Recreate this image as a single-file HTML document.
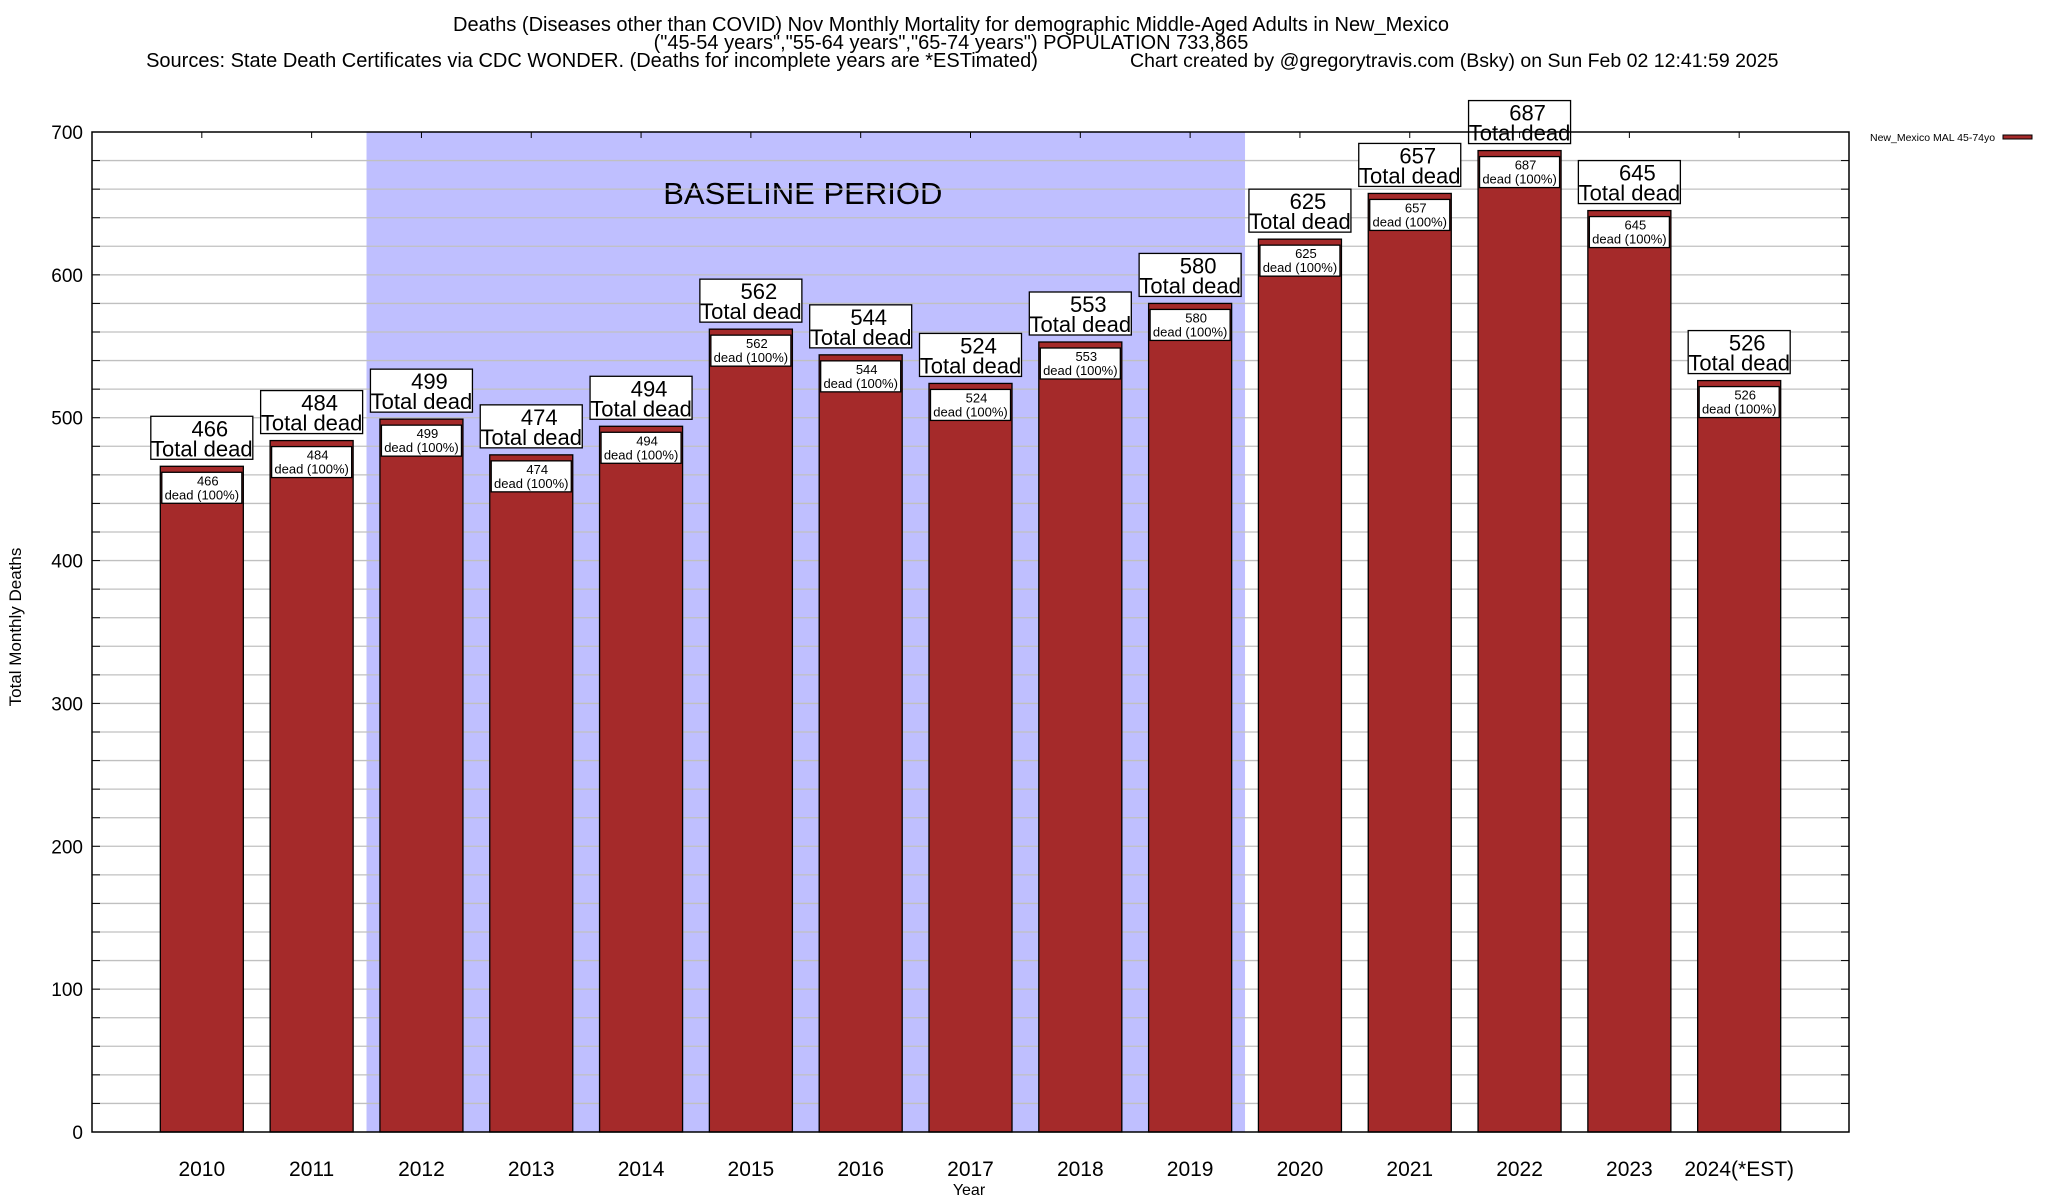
<!DOCTYPE html>
<html><head><meta charset="utf-8"><style>
html,body{margin:0;padding:0;background:#fff}
svg{display:block;font-family:"Liberation Sans",Arial,sans-serif}
</style></head><body>
<svg id="chart" width="2048" height="1200" viewBox="0 0 2048 1200" xmlns="http://www.w3.org/2000/svg">
<g font-size="20" text-anchor="middle">
<text x="951" y="31">Deaths (Diseases other than COVID) Nov Monthly Mortality for demographic Middle-Aged Adults in New_Mexico</text>
<text x="951" y="49">("45-54 years","55-64 years","65-74 years") POPULATION 733,865</text>
<text x="592" y="67">Sources: State Death Certificates via CDC WONDER. (Deaths for incomplete years are *ESTimated)</text>
<text x="1130" y="67" text-anchor="start" font-size="19.5">Chart created by @gregorytravis.com (Bsky) on Sun Feb 02 12:41:59 2025</text>
</g>
<g id="plot"></g>
<text x="21" y="627" font-size="17" text-anchor="middle" transform="rotate(-90 21 627)">Total Monthly Deaths</text>
<text x="969" y="1195" font-size="16" text-anchor="middle">Year</text>
<g>
<text x="1870" y="141" font-size="10.5">New_Mexico MAL 45-74yo</text>
<rect x="2003" y="135" width="29" height="4" fill="#a52a2a" stroke="#000" stroke-width="1"/>
</g>
</svg>
<script>
const categories = ["2010","2011","2012","2013","2014","2015","2016","2017","2018","2019","2020","2021","2022","2023","2024(*EST)"];
const values = [466,484,499,474,494,562,544,524,553,580,625,657,687,645,526];
const yTicks = [0,100,200,300,400,500,600,700];
const baselineStart = 1.5, baselineEnd = 9.5;

const NS = "http://www.w3.org/2000/svg";
const L = 92, R = 1849, T = 132, B = 1132;
const xMin = -1, xMax = 15, yMax = 700;
const xs = i => L + (i - xMin) / (xMax - xMin) * (R - L);
const ys = v => B - v / yMax * (B - T);
const g = document.getElementById('plot');
function mk(tag, attrs, parent) {
  const e = document.createElementNS(NS, tag);
  for (const k in attrs) e.setAttribute(k, attrs[k]);
  (parent || g).appendChild(e);
  return e;
}
const sh = mk('rect', {x: xs(baselineStart), y: T, width: xs(baselineEnd) - xs(baselineStart), height: B - T, fill: '#bfbfff'});


const bt = mk('text', {x: (xs(baselineStart) + xs(baselineEnd)) / 2 - 3, y: 204, 'font-size': 31, 'text-anchor': 'middle'});
bt.textContent = 'BASELINE PERIOD';


for (let v = 20; v < yMax; v += 20) {
  const gl = mk('line', {x1: L, x2: R, y1: ys(v), y2: ys(v), stroke: '#c0c0c0', 'stroke-width': 1.3});
  
  
  mk('line', {x1: L, x2: L + 8, y1: ys(v), y2: ys(v), stroke: '#000', 'stroke-width': 1});
  mk('line', {x1: R - 8, x2: R, y1: ys(v), y2: ys(v), stroke: '#000', 'stroke-width': 1});
}
yTicks.forEach(v => {
  const t = mk('text', {x: L - 9, y: ys(v) + 7, 'font-size': 19, 'text-anchor': 'end'});
  t.textContent = v;
  
  
});
const bw = 0.756 * (R - L) / (xMax - xMin);
categories.forEach((c, i) => {
  const cx = xs(i), v = values[i], top = ys(v);
  const bar = mk('rect', {x: cx - bw / 2, y: top, width: bw, height: B - top, fill: '#a52a2a', stroke: '#000', 'stroke-width': 1.3});
  
  
  const ib = mk('rect', {x: cx - bw / 2 + 1.5, y: top + 6, width: bw - 3, height: 31, fill: '#fff', stroke: '#000', 'stroke-width': 1.3});
  
  
  const it1 = mk('text', {x: cx + 6, y: top + 19, 'font-size': 13, 'text-anchor': 'middle'});
  it1.textContent = v;
  
  
  const it2 = mk('text', {x: cx, y: top + 33, 'font-size': 13, 'text-anchor': 'middle'});
  it2.textContent = 'dead (100%)';
  
  
  const ob = mk('rect', {x: cx - 51, y: top - 50, width: 102, height: 43, fill: '#fff', stroke: '#000', 'stroke-width': 1.3});
  
  
  const o1 = mk('text', {x: cx + 8, y: top - 30, 'font-size': 22, 'text-anchor': 'middle'});
  o1.textContent = v;
  
  
  const o2 = mk('text', {x: cx, y: top - 10, 'font-size': 22, 'text-anchor': 'middle'});
  o2.textContent = 'Total dead';
  
  
  mk('line', {x1: cx, x2: cx, y1: T, y2: T + 6, stroke: '#000', 'stroke-width': 1});
  const xl = mk('text', {x: cx, y: 1176, 'font-size': 21, 'text-anchor': 'middle'});
  xl.textContent = c;
  
  
});
const frame = mk('rect', {x: L, y: T, width: R - L, height: B - T, fill: 'none', stroke: '#000', 'stroke-width': 1.5});


</script>
</body></html>
